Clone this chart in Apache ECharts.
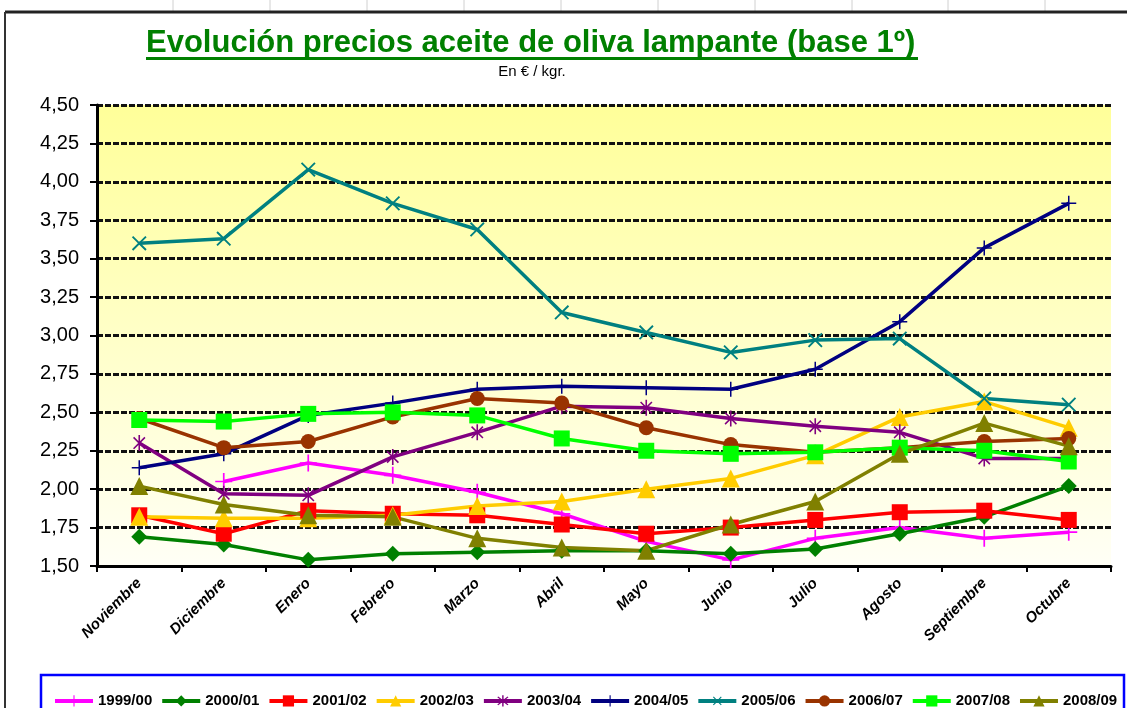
<!DOCTYPE html>
<html lang="es">
<head>
<meta charset="UTF-8" />
<title>Evolución precios aceite de oliva lampante</title>
<script src="https://cdn.jsdelivr.net/npm/echarts@6/dist/echarts.min.js"></script>
<style>
  html, body { margin: 0; padding: 0; background: #fff; }
  #chart { width: 1127px; height: 708px; }
</style>
</head>
<body>
<div id="chart"></div>
<script>
// meses de la campaña
const months = ['Noviembre', 'Diciembre', 'Enero', 'Febrero', 'Marzo', 'Abril', 'Mayo', 'Junio', 'Julio', 'Agosto', 'Septiembre', 'Octubre'];
const campaigns = ['1999/00', '2000/01', '2001/02', '2002/03', '2003/04', '2004/05', '2005/06', '2006/07', '2007/08', '2008/09'];

// precios en €/kg
const c1999 = [null, 2.05, 2.17, 2.09, 1.98, 1.84, 1.66, 1.54, 1.68, 1.75, 1.68, 1.72];
const c2000 = [1.69, 1.64, 1.54, 1.58, 1.59, 1.60, 1.60, 1.58, 1.61, 1.71, 1.82, 2.02];
const c2001 = [1.83, 1.71, 1.86, 1.84, 1.83, 1.77, 1.71, 1.75, 1.80, 1.85, 1.86, 1.80];
const c2002 = [1.82, 1.81, 1.81, 1.83, 1.89, 1.92, 2.00, 2.07, 2.22, 2.47, 2.57, 2.40];
const c2003 = [2.30, 1.97, 1.96, 2.21, 2.37, 2.54, 2.53, 2.46, 2.41, 2.37, 2.20, 2.20];
const c2004 = [2.14, 2.23, 2.48, 2.56, 2.65, 2.67, 2.66, 2.65, 2.78, 3.09, 3.57, 3.86];
const c2005 = [3.60, 3.63, 4.08, 3.86, 3.69, 3.15, 3.02, 2.89, 2.97, 2.98, 2.59, 2.55];
const c2006 = [2.46, 2.27, 2.31, 2.47, 2.59, 2.56, 2.40, 2.29, 2.24, 2.27, 2.31, 2.33];
const c2007 = [2.45, 2.44, 2.49, 2.50, 2.48, 2.33, 2.25, 2.23, 2.24, 2.27, 2.25, 2.18];
const c2008 = [2.02, 1.90, 1.83, 1.82, 1.68, 1.62, 1.60, 1.77, 1.92, 2.23, 2.43, 2.28];

const yTicks = { min: 1.5, max: 4.5, step: 0.25 };

// símbolos tipo Excel
const plusPath = 'path://M-1,-10H1V-1H10V1H1V10H-1V1H-10V-1H-1Z';
const starPath = 'path://M-1,-10H1V10H-1Z M-7.8,-6.4L-6.4,-7.8L7.8,6.4L6.4,7.8Z M6.4,-7.8L7.8,-6.4L-6.4,7.8L-7.8,6.4Z';

const styles = [
  { data: c1999, color: '#FF00FF', symbol: plusPath, size: 17 },
  { data: c2000, color: '#008000', symbol: 'diamond', size: 16 },
  { data: c2001, color: '#FF0000', symbol: 'rect', size: 16 },
  { data: c2002, color: '#FFCC00', symbol: 'triangle', size: 18 },
  { data: c2003, color: '#800080', symbol: starPath, size: 16 },
  { data: c2004, color: '#000080', symbol: plusPath, size: 15 },
  { data: c2005, color: '#008080', symbol: plusPath, size: 19, rotate: 45 },
  { data: c2006, color: '#993300', symbol: 'circle', size: 15 },
  { data: c2007, color: '#00FF00', symbol: 'rect', size: 16 },
  { data: c2008, color: '#808000', symbol: 'triangle', size: 18 }
];

const font = 'Arial, "Liberation Sans", sans-serif';

const chart = echarts.init(document.getElementById('chart'));

const series = styles.map((s, i) => ({
  name: campaigns[i],
  type: 'line',
  data: s.data,
  symbol: s.symbol,
  symbolSize: s.size,
  symbolRotate: s.rotate || 0,
  symbolKeepAspect: true,
  showAllSymbol: true,
  connectNulls: false,
  lineStyle: { color: s.color, width: 3.5 },
  itemStyle: { color: s.color, borderWidth: 0 },
  emphasis: { disabled: true },
  animation: false
}));

// líneas de la hoja de cálculo y marco
const sheetCols = [173, 270, 367, 464, 561, 658, 755, 852, 948, 1045];
const graphics = sheetCols.map(x => ({
  type: 'line', shape: { x1: x, y1: 0, x2: x, y2: 11 },
  style: { stroke: '#d0d0d0', lineWidth: 1 }, silent: true
}));
graphics.push(
  { type: 'line', shape: { x1: 5, y1: 12, x2: 1127, y2: 12 }, style: { stroke: '#222', lineWidth: 3 }, silent: true },
  { type: 'line', shape: { x1: 5, y1: 12, x2: 5, y2: 708 }, style: { stroke: '#333', lineWidth: 2 }, silent: true },
  { type: 'line', shape: { x1: 146, y1: 58.5, x2: 918, y2: 58.5 }, style: { stroke: '#008000', lineWidth: 3 }, silent: true },
  { type: 'rect', shape: { x: 41, y: 675, width: 1083, height: 60 }, style: { fill: 'none', stroke: '#0000FF', lineWidth: 2.5 }, silent: true }
);

const option = {
  backgroundColor: '#fff',
  animation: false,
  textStyle: { fontFamily: font },
  title: [
    {
      text: 'Evolución precios aceite de oliva lampante (base 1º)',
      left: 146, top: 28, padding: 0,
      textStyle: { color: '#008000', fontSize: 31, fontWeight: 'bold', fontFamily: font }
    },
    {
      text: 'En € / kgr.',
      left: 532, top: 64, padding: 0, textAlign: 'center',
      textStyle: { color: '#000', fontSize: 15, fontWeight: 'normal', fontFamily: font }
    }
  ],
  legend: {
    data: campaigns,
    left: 53, top: 693, width: 1073, padding: 0,
    itemWidth: 38, itemHeight: 14, itemGap: 8,
    lineStyle: { width: 4 },
    textStyle: { color: '#000', fontSize: 15, fontWeight: 'bold', fontFamily: font },
    selectedMode: false
  },
  grid: {
    left: 97, right: 16, top: 105, bottom: 142,
    show: true, borderWidth: 0,
    backgroundColor: {
      type: 'linear', x: 0, y: 0, x2: 0, y2: 1,
      colorStops: [
        { offset: 0, color: '#FFFF99' },
        { offset: 1, color: '#FFFFF6' }
      ]
    }
  },
  xAxis: {
    type: 'category',
    data: months,
    boundaryGap: true,
    axisLine: { lineStyle: { color: '#000', width: 3 } },
    axisTick: { show: true, length: 6, lineStyle: { color: '#000', width: 2 } },
    axisLabel: {
      rotate: 45, interval: 0, margin: 15,
      color: '#000', fontSize: 15, fontStyle: 'italic', fontWeight: 'bold', fontFamily: font
    },
    splitLine: { show: false }
  },
  yAxis: {
    type: 'value',
    min: yTicks.min, max: yTicks.max, interval: yTicks.step,
    axisLine: { show: true, lineStyle: { color: '#000', width: 3 } },
    axisTick: { show: true, length: 7, lineStyle: { color: '#000', width: 2 } },
    axisLabel: {
      color: '#000', fontSize: 20, margin: 18, fontFamily: font,
      formatter: v => v.toFixed(2).replace('.', ',')
    },
    splitLine: { show: true, lineStyle: { color: '#111', width: 3, type: [6, 2] } }
  },
  graphic: graphics,
  series: series
};

chart.setOption(option);
</script>
</body>
</html>
